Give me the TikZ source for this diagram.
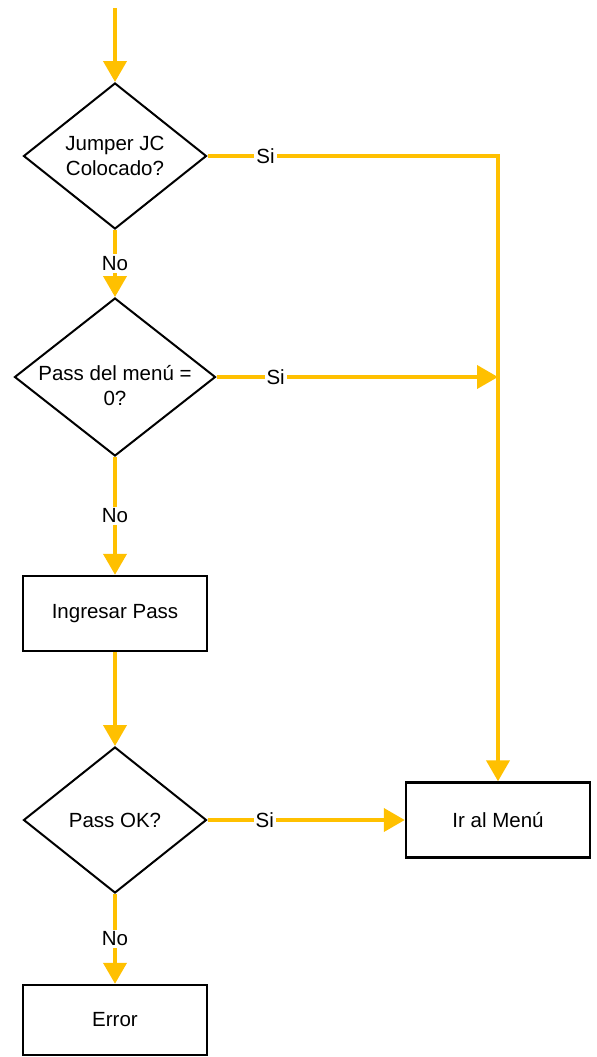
\documentclass[tikz,border=0pt]{standalone}
\usepackage{fontspec}
\setmainfont{Liberation Sans}
\usepackage{xcolor}
\usetikzlibrary{arrows.meta}
\usetikzlibrary{shapes.geometric}
\definecolor{flowyellow}{HTML}{FFC000}

\begin{document}
\begin{tikzpicture}[x=0.5pt,y=-0.5pt,
  every node/.style={font=\fontsize{10.25}{12.5}\selectfont},
  decision/.style={draw, diamond, line width=1pt, inner sep=0pt,
    minimum width=91.5pt, minimum height=73pt},
  process/.style={draw, rectangle, line width=1.2pt,
    minimum width=92pt, minimum height=37.5pt},
  flow/.style={flowyellow, line width=2pt, -{Triangle[width=11.5pt,length=10.5pt]}},
  tag/.style={fill=white, inner sep=1pt, text=black}]

\useasboundingbox (0,0) rectangle (596,1057);

\coordinate (start) at (115,8);

\node[decision, label={[align=center]center:Jumper JC\\Colocado?}] (jumper) at (115,156) {};
\node[decision, minimum width=100.5pt, minimum height=79pt,
  label={[align=center,yshift=-4.5pt]center:Pass del menú =\\0?}] (passmenu) at (115,377) {};
\node[process] (ingresar) at (115,613.5) {Ingresar Pass};
\node[decision, label=center:{Pass OK?}] (passok) at (115,820) {};
\node[process] (menu) at (498,820) {Ir al Menú};
\node[process, minimum height=35pt] (error) at (115,1020) {Error};

\coordinate (corner) at (menu.north |- jumper.east);
\coordinate (join) at (menu.north |- passmenu.east);

% main column
\draw[flow] (start) -- (jumper.north);
\draw[flow] (jumper.south) -- node[tag]{No} (passmenu.north);
\draw[flow] (passmenu.south) -- node[tag]{No} (ingresar.north);
\draw[flow] (ingresar.south) -- (passok.north);
\draw[flow] (passok.south) -- node[tag]{No} (error.north);

% branches to the menu
\draw[flow] (jumper.east) -- node[tag,pos=0.2]{Si} (corner) -- (menu.north);
\draw[flow] (passmenu.east) -- node[tag,pos=0.21]{Si} (join);
\draw[flow] (passok.east) -- node[tag,pos=0.29]{Si} (menu.west);

\end{tikzpicture}
\end{document}
